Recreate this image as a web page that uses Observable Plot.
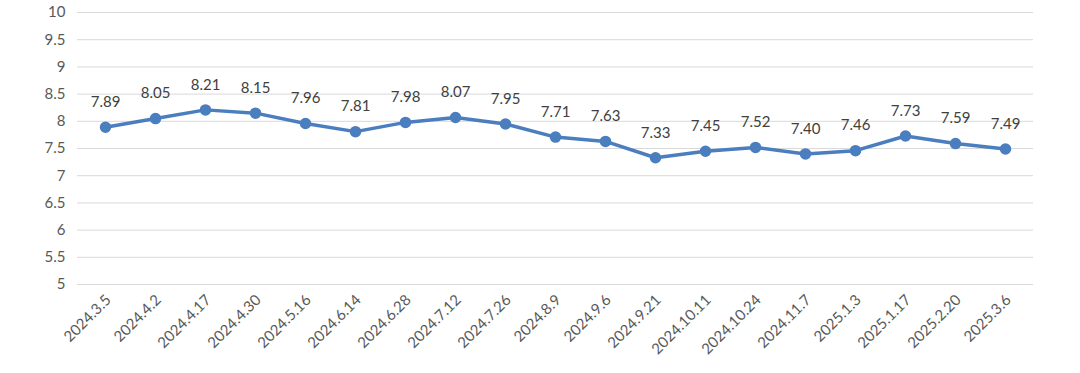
<!DOCTYPE html>
<html><head><meta charset="utf-8">
<script src="https://cdn.jsdelivr.net/npm/d3@7"></script>
<script src="https://cdn.jsdelivr.net/npm/@observablehq/plot@0.6"></script>
<style>body{margin:0;background:#fff;} svg{display:block;}</style>
</head><body><div id="chart"></div>
<script>
const dates = ["2024.3.5","2024.4.2","2024.4.17","2024.4.30","2024.5.16","2024.6.14","2024.6.28","2024.7.12","2024.7.26","2024.8.9","2024.9.6","2024.9.21","2024.10.11","2024.10.24","2024.11.7","2025.1.3","2025.1.17","2025.2.20","2025.3.6"];
const values = [7.89,8.05,8.21,8.15,7.96,7.81,7.98,8.07,7.95,7.71,7.63,7.33,7.45,7.52,7.40,7.46,7.73,7.59,7.49];
const yTicks = [5,5.5,6,6.5,7,7.5,8,8.5,9,9.5,10];
const data = dates.map((d,i)=>({date:d, value:values[i]}));
const color = "#4a7ebf";
const chart = Plot.plot({
  width: 1080, height: 373,
  marginLeft: 77, marginRight: 47, marginTop: 12, marginBottom: 89,
  style: {fontFamily: "Lato, 'Open Sans', sans-serif", background: "#fff"},
  x: {type: "point", domain: dates, padding: 0.5},
  y: {domain: [5,10]},
  marks: [
    Plot.gridY(yTicks, {stroke: "#d9d9d9", strokeOpacity: 1, strokeWidth: 1}),
    Plot.axisY(yTicks, {tickSize: 0, tickPadding: 12, fontSize: 15, fill: "#595959", tickFormat: d => String(d), label: null}),
    Plot.axisX({tickSize: 0, tickPadding: 13, tickRotate: -45, fontSize: 15, fill: "#595959", label: null, dx: 3}),
    Plot.line(data, {x: "date", y: "value", stroke: color, strokeWidth: 3.5}),
    Plot.dot(data, {x: "date", y: "value", r: 5, fill: color, stroke: color}),
    Plot.text(data, {x: "date", y: "value", text: d => d.value.toFixed(2), dy: -25, fontSize: 15, fill: "#404040"})
  ]
});
document.getElementById("chart").appendChild(chart);
</script></body></html>
